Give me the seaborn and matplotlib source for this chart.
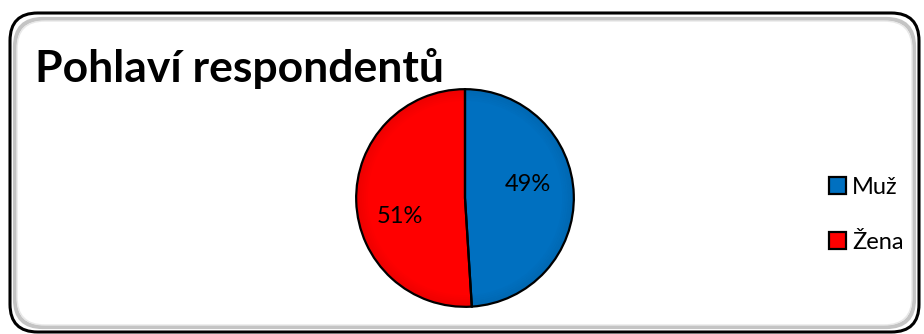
import matplotlib
matplotlib.use("Agg")
import matplotlib.pyplot as plt
import seaborn as sns
from matplotlib.patches import FancyBboxPatch, Patch

# Gender split of respondents
categories = ["Muž", "Žena"]
shares = [49, 51]
colors = ["#0070C0", "#FF0000"]
title = "Pohlaví respondentů"

sns.set_theme(style="white")
plt.rcParams["font.family"] = ["Lato", "DejaVu Sans"]

W, H = 924, 334
fig = plt.figure(figsize=(W / 100, H / 100), dpi=100)
fig.patch.set_facecolor("white")

# Rounded chart frame: black outer line with a grey inner bevel
def px_box(x0, y0, x1, y1, **kw):
    return FancyBboxPatch((x0 / W, 1 - y1 / H), (x1 - x0) / W, (y1 - y0) / H,
                          boxstyle="round,pad=0,rounding_size=0.03",
                          transform=fig.transFigure, mutation_aspect=W / H,
                          zorder=-5, **kw)

fig.patches.append(px_box(10, 13, 919, 332, facecolor="none", edgecolor="black", lw=2.2))
fig.patches.append(px_box(15, 19, 914, 327, facecolor="none", edgecolor="#c4c4c4", lw=3.0))
fig.patches.append(px_box(17, 21, 912, 325, facecolor="white", edgecolor="#e8e8e8", lw=1.0))

fig.text(35 / W, 1 - 82 / H, title, fontsize=32, fontweight="bold",
         ha="left", va="baseline", color="black")

# Pie axes
cx, cy, r = 465, 198, 111
ax = fig.add_axes([(cx - r) / W, 1 - (cy + r) / H, 2 * r / W, 2 * r / H])
ax.set_facecolor("none")
wedges, texts, autotexts = ax.pie(
    shares, colors=colors, startangle=90, counterclock=False,
    autopct=lambda p: f"{p:.0f}%", pctdistance=0.58,
    wedgeprops=dict(edgecolor="none", linewidth=0),
    textprops=dict(fontsize=17, color="black"))

# Soft bevel towards the rim of each slice
for k in range(6):
    ax.pie(shares, colors=["black"] * len(shares), startangle=90, counterclock=False,
           radius=1.0 - k * 0.018, wedgeprops=dict(width=0.018, alpha=0.07 * (6 - k) / 6,
                                                  edgecolor="none", linewidth=0))
# Slice outlines
ax.pie(shares, colors=["none"] * len(shares), startangle=90, counterclock=False,
       wedgeprops=dict(edgecolor="black", linewidth=1.6, fill=False))

ax.set_xlim(-1.02, 1.02)
ax.set_ylim(-1.02, 1.02)
ax.set_aspect("equal")
ax.axis("off")
for t in autotexts:
    t.set_zorder(10)
autotexts[0].set_position((0.58, 0.12))
autotexts[1].set_position((-0.60, -0.17))

handles = [Patch(facecolor=c, edgecolor="black", linewidth=1.6) for c in colors]
fig.legend(handles, categories, loc="center left",
           bbox_to_anchor=(829 / W, 1 - 215 / H), frameon=False,
           fontsize=17, labelcolor="black", handlelength=0.72, handleheight=0.72,
           handletextpad=0.25, labelspacing=1.45, borderpad=0, borderaxespad=0)

fig.savefig("out.png", dpi=100, facecolor="white")
